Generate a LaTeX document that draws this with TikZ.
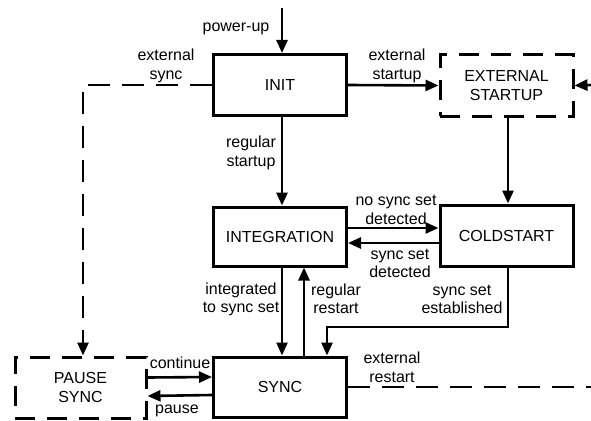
\documentclass[tikz,border=0pt]{standalone}
\usepackage{fontspec}
\setmainfont{Liberation Sans}
\usetikzlibrary{arrows.meta}
\tikzset{
  state/.style={draw, line width=3pt, minimum width=133pt, minimum height=61pt, inner sep=0pt, align=center, font=\fontsize{16}{18.5}\selectfont},
  dstate/.style={state, dash pattern=on 20pt off 12pt},
  lbl/.style={inner sep=0pt, align=center, font=\fontsize{16}{18.5}\selectfont},
  arr/.style={line width=2.6pt, -{Triangle[length=13pt,width=11pt]}},
  darr/.style={arr, dash pattern=on 22pt off 12pt},
  dline/.style={line width=2.6pt, dash pattern=on 22pt off 12pt}
}
\begin{document}
\begin{tikzpicture}[x=1pt,y=-1pt]
\useasboundingbox (0,0) rectangle (591,420);
% states
\node[state] (init) at (280,85) {INIT};
\node[dstate] (ext) at (506.5,85.5) {EXTERNAL\\STARTUP};
\node[state, minimum height=59pt] (integ) at (280,236.5) {INTEGRATION};
\node[state] (cold) at (506.5,235.5) {COLDSTART};
\node[state, minimum height=60pt] (sync) at (280,387) {SYNC};
\node[dstate, minimum width=131pt] (pause) at (80.5,387.5) {PAUSE\\SYNC};
% free ends
\coordinate (pu) at (282,8);
\coordinate (rin) at (591,85);
\coordinate (rout) at (591,387);
\coordinate (se) at (0,327);
% connectors
\draw[arr] (pu) -- (pu |- init.north);
\draw[darr] (init.west) -| ([xshift=2.5pt]pause.north);
\draw[arr] (init.east) -- (ext.west);
\draw[arr] (rin) -- (ext.east);
\draw[arr] ([xshift=1.5pt]ext.south) -- ([xshift=1.5pt]cold.north);
\draw[arr] ([xshift=2pt]init.south) -- ([xshift=2pt]integ.north);
\draw[arr] ([yshift=8.5pt]integ.east) -- ([yshift=7.5pt]cold.west);
\draw[arr] ([yshift=-7.5pt]cold.west) -- ([yshift=-6.5pt]integ.east);
\draw[arr] ([xshift=2pt]integ.south) -- ([xshift=2pt]sync.north);
\draw[arr] ([xshift=24pt]sync.north) -- ([xshift=24pt]integ.south);
\draw[arr] ([xshift=1.5pt]cold.south) -- ([xshift=1.5pt]cold.south |- se) -| ([xshift=47pt]sync.north);
\draw[arr] ([yshift=10pt]pause.east) -- ([yshift=10pt]sync.west);
\draw[arr] ([yshift=-8pt]sync.west) -- ([yshift=-8.5pt]pause.east);
\draw[dline] (sync.east) -- (rout);
% labels
\node[lbl] (lpu) at (236,29) {power-up};
\node[lbl] (lexs) at (166,66) {external\\sync};
\node[lbl] (lexst) at (397,66) {external\\startup};
\node[lbl] (lrs) at (251,153) {regular\\startup};
\node[lbl] (lnss) at (396,210) {no sync set\\detected};
\node[lbl] (lssd) at (400,263.5) {sync set\\detected};
\node[lbl] (lrr) at (336,299) {regular\\restart};
\node[lbl] (lsse) at (462,299.5) {sync set\\established};
\node[lbl] (lits) at (241,299.5) {integrated\\to sync set};
\node[lbl] (lcont) at (180,363) {continue};
\node[lbl] (lpause) at (177,411) {pause};
\node[lbl] (lexr) at (392,367.5) {external\\restart};
\end{tikzpicture}
\end{document}
